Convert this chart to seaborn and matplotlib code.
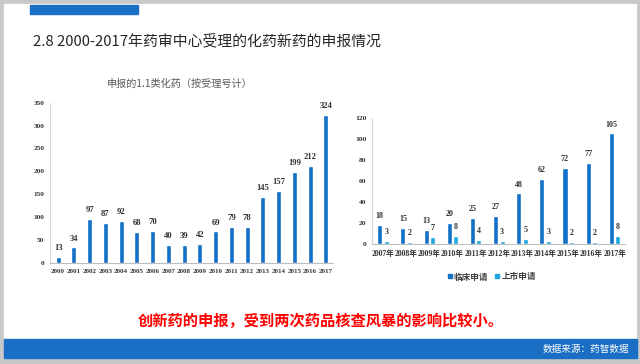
import pandas as pd
import seaborn as sns
import matplotlib.pyplot as plt
from matplotlib.patches import Rectangle
from matplotlib.lines import Line2D

# left chart: 1.1类化药 applications per year
years = [str(y) for y in range(2000, 2018)]
counts = [13, 34, 97, 87, 92, 68, 70, 40, 39, 42, 69, 79, 78, 145, 157, 199, 212, 324]

# right chart: clinical vs market applications
years2 = [str(y) + '年' for y in range(2007, 2018)]
clinical = [18, 15, 13, 20, 25, 27, 48, 62, 72, 77, 105]
market = [3, 2, 7, 8, 4, 3, 5, 3, 2, 2, 8]
series_names = ['临床申请', '上市申请']

BLUE = '#1270c8'
CYAN = '#1ba6e0'
BAND = '#1a6fc4'
GRAY = '#c8c8c8'
SERIF = ['Liberation Serif', 'Noto Sans CJK SC']
CJK = ['Noto Sans CJK SC', 'DejaVu Sans']

sns.set_style('white')
plt.rcParams['font.family'] = CJK

W, H = 640, 364
fig = plt.figure(figsize=(6.4, 3.64), dpi=100, facecolor=GRAY)


def fx(x):
    return x / W


def fy(y):
    return 1 - y / H


def box(x0, y0, x1, y1, c):
    fig.patches.append(Rectangle((fx(x0), fy(y1)), fx(x1 - x0), (y1 - y0) / H,
                                 transform=fig.transFigure, color=c, zorder=-5))


# slide background and decorations
box(4, 4, 636, 339, 'white')
box(4, 339, 637, 358, BAND)
box(30, 5, 138, 14, BAND)

fig.text(fx(33), fy(41), '2.8 2000-2017年药审中心受理的化药新药的申报情况',
         fontsize=10.7, color='#262626', va='center', ha='left', family=CJK)
fig.text(fx(180), fy(84), '申报的1.1类化药（按受理号计）',
         fontsize=7.3, color='#595959', va='center', ha='center', family=CJK)
fig.text(fx(321), fy(321), '创新药的申报，受到两次药品核查风暴的影响比较小。',
         fontsize=11, color='#ff0000', fontweight='bold', va='center', ha='center', family=CJK)
fig.text(fx(629), fy(349), '数据来源：药智数据',
         fontsize=6.9, color='white', va='center', ha='right', family=CJK)

# ---- left chart ----
ax1 = fig.add_axes([fx(50), fy(263), fx(283), (263 - 102.7) / H])
ax1.set_facecolor('none')
sns.barplot(x=years, y=counts, color=BLUE, width=0.32, saturation=1, ax=ax1)
ax1.set_xlim(-0.52, 17.45)
ax1.set_ylim(0, 350)
ax1.set_yticks(range(0, 351, 50))
for c in ax1.containers:
    ax1.bar_label(c, padding=3.5, fontsize=6.2, fontweight='bold', color='#333333', family=SERIF)

# ---- right chart ----
df = pd.DataFrame({
    'year': years2 * 2,
    'count': clinical + market,
    'type': [series_names[0]] * len(years2) + [series_names[1]] * len(years2),
})
ax2 = fig.add_axes([fx(372), fy(244), fx(253), (244 - 117.7) / H])
ax2.set_facecolor('none')
sns.barplot(data=df, x='year', y='count', hue='type', palette=[BLUE, CYAN],
            width=0.56, gap=0.22, saturation=1, legend=False, ax=ax2)
ax2.set_xlim(-0.475, 10.45)
ax2.set_ylim(0, 120)
ax2.set_yticks(range(0, 121, 20))
for c in ax2.containers:
    ax2.bar_label(c, padding=3.5, fontsize=5.8, fontweight='bold', color='#333333', family=SERIF)

for ax, xs, ys in [(ax1, 5.0, 5.3), (ax2, 5.5, 5.4)]:
    ax.set_xlabel('')
    ax.set_ylabel('')
    sns.despine(ax=ax)
    ax.spines['left'].set_color('#d9d9d9')
    ax.spines['bottom'].set_color('#bfbfbf')
    ax.spines['left'].set_linewidth(0.8)
    ax.spines['bottom'].set_linewidth(0.8)
    ax.tick_params(length=0, pad=4)
    for t in ax.get_xticklabels():
        t.set_fontsize(xs)
        t.set_fontweight('bold')
        t.set_family(SERIF)
        t.set_color('#333333')
    for t in ax.get_yticklabels():
        t.set_fontsize(ys)
        t.set_fontweight('bold')
        t.set_family(SERIF)
        t.set_color('#333333')

handles = [Line2D([], [], marker='s', ls='', color=col, markersize=3.5) for col in [BLUE, CYAN]]
fig.legend(handles, series_names, loc='center', bbox_to_anchor=(fx(491), fy(277)),
           ncol=2, frameon=False, handletextpad=0.1, columnspacing=0.6, handlelength=0.8,
           prop={'family': CJK, 'size': 6.2, 'weight': 'bold'}, labelcolor='#404040')

fig.savefig('out.png', dpi=100, facecolor=GRAY)
